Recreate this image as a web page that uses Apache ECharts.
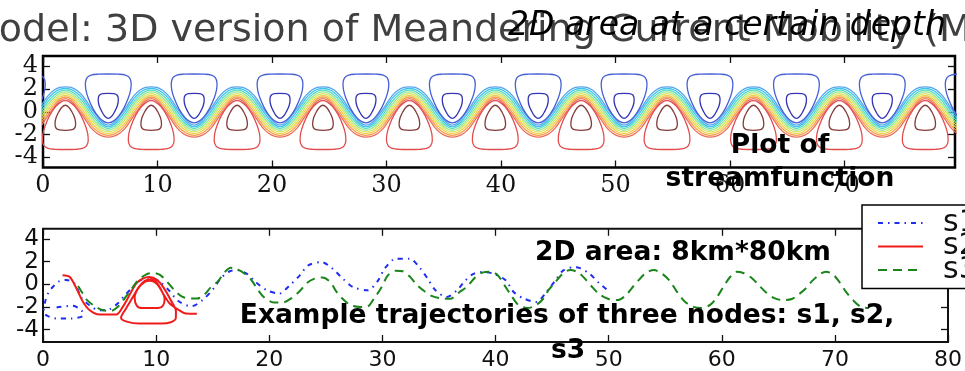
<!DOCTYPE html>
<html><head><meta charset="utf-8">
<script src="https://cdn.jsdelivr.net/npm/echarts@6/dist/echarts.min.js"></script>
<style>html,body{margin:0;padding:0;background:#fff;overflow:hidden}#c{width:965px;height:371px}</style>
</head><body><div id="c"></div>
<script>
// ---------- tick labels ----------
const topXTicks = [0, 10, 20, 30, 40, 50, 60, 70];
const bottomXTicks = [0, 10, 20, 30, 40, 50, 60, 70, 80];
const yTicks = [-4, -2, 0, 2, 4];

// ---------- top plot: streamfunction contours ----------
const blueCellCenters = [-1.8, 5.7, 13.2, 20.7, 28.2, 35.75, 43.25, 50.75, 58.25, 65.8, 73.3, 80.8];
const redCellCenters = [1.95, 9.45, 16.95, 24.45, 32.0, 39.5, 47.0, 54.5, 62.05, 69.55, 77.05];
const bandCrests = [-5.55, 1.95, 9.45, 16.95, 24.45, 32.0, 39.5, 47.0, 54.5, 62.05, 69.55, 77.05];
// loop outlines, [offset from cell centre, y]
const blueOuterLoop = [[0,3.32],[0.9,3.3],[1.5,3.22],[1.85,3.0],[2.0,2.5],[1.95,1.9],[1.75,1.2],[1.35,0.3],[0.85,-0.45],[0.4,-0.85],[0,-0.98],[-0.4,-0.85],[-0.85,-0.45],[-1.35,0.3],[-1.75,1.2],[-1.95,1.9],[-2.0,2.5],[-1.85,3.0],[-1.5,3.22],[-0.9,3.3],[0,3.32]];
const blueInnerLoop = [[0,1.62],[0.5,1.6],[0.78,1.45],[0.88,1.1],[0.8,0.55],[0.55,0.0],[0.3,-0.4],[0,-0.58],[-0.3,-0.4],[-0.55,0.0],[-0.8,0.55],[-0.88,1.1],[-0.78,1.45],[-0.5,1.6],[0,1.62]];
const redOuterLoop = [[0,-3.32],[0.9,-3.3],[1.5,-3.22],[1.85,-3.0],[2.0,-2.5],[1.95,-1.9],[1.75,-1.2],[1.35,-0.3],[0.85,0.45],[0.4,0.85],[0,0.97],[-0.4,0.85],[-0.85,0.45],[-1.35,-0.3],[-1.75,-1.2],[-1.95,-1.9],[-2.0,-2.5],[-1.85,-3.0],[-1.5,-3.22],[-0.9,-3.3],[0,-3.32]];
const redInnerLoop = [[0,-1.63],[0.5,-1.6],[0.8,-1.45],[0.9,-1.1],[0.82,-0.55],[0.57,0.0],[0.3,0.4],[0,0.57],[-0.3,0.4],[-0.57,0.0],[-0.82,-0.55],[-0.9,-1.1],[-0.8,-1.45],[-0.5,-1.6],[0,-1.63]];
// jet band: half-period profile from crest (offset 0) to trough
const bandOffsets = [0, 0.5, 1.0, 1.5, 1.88, 2.25, 2.75, 3.25, 3.75];
const band1 = [2.195, 2.144, 1.891, 1.416, 0.893, 0.316, -0.369, -0.936, -1.175];
const band2 = [2.045, 1.971, 1.674, 1.169, 0.638, 0.069, -0.586, -1.109, -1.325];
const band3 = [1.895, 1.799, 1.456, 0.921, 0.383, -0.179, -0.804, -1.281, -1.475];
const band4 = [1.745, 1.626, 1.239, 0.674, 0.128, -0.426, -1.021, -1.454, -1.625];
const band5 = [1.595, 1.454, 1.021, 0.426, -0.128, -0.674, -1.239, -1.626, -1.775];
const band6 = [1.445, 1.281, 0.804, 0.179, -0.383, -0.921, -1.456, -1.799, -1.925];
const band7 = [1.295, 1.109, 0.586, -0.069, -0.638, -1.169, -1.674, -1.971, -2.075];
const band8 = [1.145, 0.936, 0.369, -0.316, -0.893, -1.416, -1.891, -2.144, -2.225];

// ---------- bottom plot: trajectories ----------
const s1X = [1.2,2.6,3.4,3.55,2.5,1.15,0.4,0.05,0.2,0.5,0.9,1.4,2.05,2.8,3.4,4.1,5.0,5.9,6.6,7.3,8.0,8.6,9.4,10.2,11.1,12.0,13.1,14.1,15.1,15.7,16.5,17.2,18.0,18.8,19.8,20.9,21.8,22.7,23.45,24.6,25.6,26.5,27.4,28.7,29.6,30.2,31.2,32.4,33.25,34.0,34.7,35.7,36.6,37.35,38.1,38.96,39.8,40.9,41.6,42.5,43.6,44.5,45.3,46.0,46.9,47.4,48.3,49.2,50.1];
const s1Y = [-2.05,-1.9,-2.3,-2.75,-3.02,-3.02,-2.8,-2.5,-1.5,-0.7,-0.2,0.25,0.38,0.05,-1.2,-1.85,-2.3,-2.2,-1.7,-0.9,-0.2,0.35,0.6,0.3,-0.5,-1.5,-1.95,-1.4,-0.35,0.5,1.15,1.25,0.94,0.2,-0.53,-0.82,-0.1,0.79,1.67,1.96,1.38,0.5,-0.24,-0.53,0.3,1.38,2.26,2.26,1.52,0.5,-0.53,-1.12,-0.53,0.35,0.94,1.08,0.94,0.35,-0.68,-1.26,-1.56,-0.68,0.35,1.23,1.5,1.45,0.94,0.06,-0.68];
const s2X = [1.73,2.37,2.96,3.54,4.13,5.0,6.47,7.05,7.64,8.23,8.81,9.4,10.12,10.71,11.3,11.75,11.74,11.3,10.5,8.5,7.4,6.9,7.3,7.9,8.5,9.0,9.5,10.0,10.5,10.75,10.6,10.2,8.8,8.3,8.1,8.4,9.0,9.5,10.1,10.6,11.2,12.03,12.6,13.6];
const s2Y = [0.79,0.64,-0.38,-1.56,-2.29,-2.67,-2.67,-2.0,-0.97,0.06,0.5,0.64,0.35,-0.38,-1.41,-2.4,-3.0,-3.35,-3.47,-3.47,-3.3,-2.95,-2.2,-1.2,-0.2,0.3,0.45,0.2,-0.6,-1.3,-1.9,-2.1,-2.1,-1.9,-1.2,-0.4,0.2,0.3,0.0,-0.8,-1.7,-2.29,-2.58,-2.6];
const s3X = [3.1,3.5,3.9,4.6,5.3,6.0,6.6,7.1,7.8,8.4,9.1,9.7,10.3,10.9,11.6,12.3,13.0,13.6,14.2,14.8,15.5,16.0,16.6,17.1,17.8,18.4,19.0,19.6,20.4,21.2,22.0,22.7,23.3,24.0,24.7,25.4,25.9,26.5,27.2,28.0,28.6,29.3,29.9,30.5,31.2,31.8,32.4,33.0,33.7,34.4,35.2,36.0,36.8,37.5,38.2,38.9,39.6,40.2,40.8,41.4,42.0,42.8,43.5,44.2,44.7,45.3,46.0,46.6,47.3,47.9,48.6,49.2,50.0,50.8,51.5,52.0,52.6,53.3,54.0,54.7,55.4,56.0,56.7,57.5,58.3,59.0,59.6,60.1,60.7,61.3,61.9,62.6,63.2,63.9,64.6,65.4,66.2,66.8,67.4,68.0,68.7,69.2,69.8,70.4,71.0,71.6,72.3,73.0];
const s3Y = [-0.15,-0.8,-1.4,-1.95,-2.3,-2.35,-2.0,-1.4,-0.45,0.35,0.85,1.0,0.85,0.3,-0.5,-1.1,-1.26,-1.26,-1.0,-0.3,0.3,1.0,1.45,1.35,0.95,0.4,-0.5,-1.2,-1.6,-1.6,-1.2,-0.6,0.1,0.5,0.6,0.2,-0.6,-1.3,-1.85,-2.0,-2.0,-1.2,-0.3,0.8,1.2,1.15,0.7,0.0,-0.6,-1.05,-1.25,-1.28,-0.7,-0.2,0.6,1.05,1.1,0.8,-0.1,-1.0,-1.8,-2.1,-1.9,-1.3,-0.5,0.2,1.0,1.25,1.05,0.5,-0.3,-0.9,-1.3,-1.4,-1.0,-0.4,0.3,1.0,1.25,0.95,0.3,-0.6,-1.5,-2.0,-2.1,-1.8,-1.1,-0.3,0.6,1.1,1.0,0.6,0.0,-0.7,-1.2,-1.4,-1.3,-0.9,-0.4,0.3,0.9,1.1,0.9,0.2,-0.7,-1.4,-2.0,-2.1];
const seriesNames = ['s1', 's2', 's3'];

// ---------- build series data ----------
function loopsAt(centers, shape) {
  const out = [];
  centers.forEach(c => { shape.forEach(p => out.push([c + p[0], p[1]])); out.push([null, null]); });
  return out;
}
function bandLine(profile) {
  const out = [];
  bandCrests.forEach((c, i) => {
    for (let k = bandOffsets.length - 1; k >= 0; k--) {
      if (i > 0 && k === bandOffsets.length - 1) continue;
      out.push([c - bandOffsets[k], profile[k]]);
    }
    for (let k = 1; k < bandOffsets.length; k++) out.push([c + bandOffsets[k], profile[k]]);
  });
  return out;
}
const zipXY = (xs, ys) => xs.map((x, i) => [x, ys[i]]);

const bands = [band1, band2, band3, band4, band5, band6, band7, band8];
const bandColors = ['#58a4ec', '#3cc4ec', '#5edcc8', '#98e68e', '#d0e660', '#f2cf4a', '#f4a24e', '#ee6e5c'];

const contourSeries = [];
const mkContour = (data, color) => ({
  type: 'line', xAxisIndex: 0, yAxisIndex: 0, data, smooth: 0.35, symbol: 'none',
  lineStyle: { color, width: 1.3 }, silent: true, animation: false, connectNulls: false, z: 2
});
bands.forEach((b, i) => contourSeries.push(mkContour(bandLine(b), bandColors[i])));
contourSeries.push(mkContour(loopsAt(blueCellCenters, blueOuterLoop), '#4660d6'));
contourSeries.push(mkContour(loopsAt(blueCellCenters, blueInnerLoop), '#3434b4'));
contourSeries.push(mkContour(loopsAt(redCellCenters, redOuterLoop), '#e24c4c'));
contourSeries.push(mkContour(loopsAt(redCellCenters, redInnerLoop), '#863c3c'));

const trajSeries = [
  { name: seriesNames[0], data: zipXY(s1X, s1Y), color: '#1f2cf4', type: [5, 5, 1.5, 5] },
  { name: seriesNames[1], data: zipXY(s2X, s2Y), color: '#f01c1c', type: 'solid' },
  { name: seriesNames[2], data: zipXY(s3X, s3Y), color: '#1a851a', type: [9, 6] }
].map(s => ({
  type: 'line', name: s.name, xAxisIndex: 2, yAxisIndex: 3, data: s.data, smooth: 0.3,
  symbol: 'none', color: s.color, lineStyle: { color: s.color, width: 2, type: s.type },
  animation: false, silent: true, z: 3
}));

// ---------- axes ----------
const serif = 'DejaVu Serif', sans = 'DejaVu Sans';
// labels split over two overlaid axes so that none is dropped for overlapping
const yLabelsA = yTicks.filter((v, i) => i % 2 === 0);
const yLabelsB = yTicks.filter((v, i) => i % 2 === 1);
function xAx(grid, min, max, ticks, pos, showLabel, font, size, margin) {
  return {
    type: 'value', gridIndex: grid, min, max, position: pos,
    axisLine: { show: false, onZero: false }, splitLine: { show: false },
    axisTick: { show: true, inside: true, length: 7, customValues: ticks, lineStyle: { color: '#111', width: 1.3 } },
    axisLabel: { show: showLabel, customValues: ticks, interval: 0, hideOverlap: false, showMinLabel: true, showMaxLabel: true, fontFamily: font, fontSize: size, lineHeight: 16, color: '#111', margin }
  };
}
function yAx(grid, min, max, pos, showTick, labels, font, size, margin) {
  return {
    type: 'value', gridIndex: grid, min, max, position: pos,
    axisLine: { show: false, onZero: false }, splitLine: { show: false },
    axisTick: { show: showTick, inside: true, length: 7, customValues: yTicks, lineStyle: { color: '#111', width: 1.3 } },
    axisLabel: { show: !!labels, customValues: labels || yTicks, interval: 0, hideOverlap: false, showMinLabel: true, showMaxLabel: true, fontFamily: font, fontSize: size, lineHeight: 14, color: '#111', margin }
  };
}

const option = {
  backgroundColor: '#fff',
  animation: false,
  grid: [
    { left: 43, top: 56, width: 912, height: 111.5, show: true, borderColor: '#000', borderWidth: 2.5, backgroundColor: 'transparent' },
    { left: 43, top: 228.8, width: 911, height: 113.75, show: true, borderColor: '#111', borderWidth: 2, backgroundColor: 'transparent' }
  ],
  xAxis: [
    xAx(0, 0, 79.65, topXTicks, 'bottom', true, serif, 24, 10),
    xAx(0, 0, 79.65, topXTicks, 'top', false, serif, 24, 6),
    xAx(1, 0, 80, bottomXTicks, 'bottom', true, sans, 22, 10),
    xAx(1, 0, 80, bottomXTicks, 'top', false, sans, 22, 6)
  ],
  yAxis: [
    yAx(0, -4.9, 4.9, 'left', true, yLabelsA, serif, 24, 5),
    yAx(0, -4.9, 4.9, 'right', true, null, serif, 24, 5),
    yAx(0, -4.9, 4.9, 'left', false, yLabelsB, serif, 24, 5),
    yAx(1, -5.1, 4.9, 'left', true, yLabelsA, sans, 23, 4),
    yAx(1, -5.1, 4.9, 'right', true, null, sans, 23, 4),
    yAx(1, -5.1, 4.9, 'left', false, yLabelsB, sans, 23, 4)
  ],
  legend: {
    data: seriesNames, orient: 'vertical', left: 862, top: 205, selectedMode: false,
    padding: [3, 10, 3.5, 15], itemWidth: 45, itemHeight: 12, itemGap: -6.5,
    backgroundColor: '#fff', borderColor: '#000', borderWidth: 1.5, borderRadius: 0,
    itemStyle: { opacity: 0 },
    textStyle: { fontFamily: sans, fontSize: 30, color: '#111', lineHeight: 22, padding: [0, 0, 0, 15] }
  },
  series: contourSeries.concat(trajSeries),
  graphic: [
    { type: 'text', z: 100, style: { text: 'Model: 3D version of Meandering Current Mobility (MCM)', x: -34, y: 31, verticalAlign: 'middle', font: '38px "DejaVu Sans"', fill: '#404040' } },
    { type: 'text', z: 101, style: { text: '2D area at a certain depth', x: 508, y: 26, verticalAlign: 'middle', font: 'oblique 33px "DejaVu Sans"', fill: '#000' } },
    { type: 'text', z: 101, style: { text: 'Plot of', x: 780, y: 146, align: 'center', verticalAlign: 'middle', font: 'bold 26.5px "DejaVu Sans"', fill: '#000' } },
    { type: 'text', z: 101, style: { text: 'streamfunction', x: 780, y: 179, align: 'center', verticalAlign: 'middle', font: 'bold 26.5px "DejaVu Sans"', fill: '#000' } },
    { type: 'text', z: 101, style: { text: '2D area: 8km*80km', x: 535, y: 253.5, verticalAlign: 'middle', font: 'bold 26.5px "DejaVu Sans"', fill: '#000' } },
    { type: 'text', z: 101, style: { text: 'Example trajectories of three nodes: s1, s2,', x: 567, y: 316, align: 'center', verticalAlign: 'middle', font: 'bold 26.5px "DejaVu Sans"', fill: '#000' } },
    { type: 'text', z: 101, style: { text: 's3', x: 568, y: 351, align: 'center', verticalAlign: 'middle', font: 'bold 26.5px "DejaVu Sans"', fill: '#000' } }
  ]
};
const chart = echarts.init(document.getElementById('c'), null, { renderer: 'canvas' });
chart.setOption(option);
</script></body></html>
